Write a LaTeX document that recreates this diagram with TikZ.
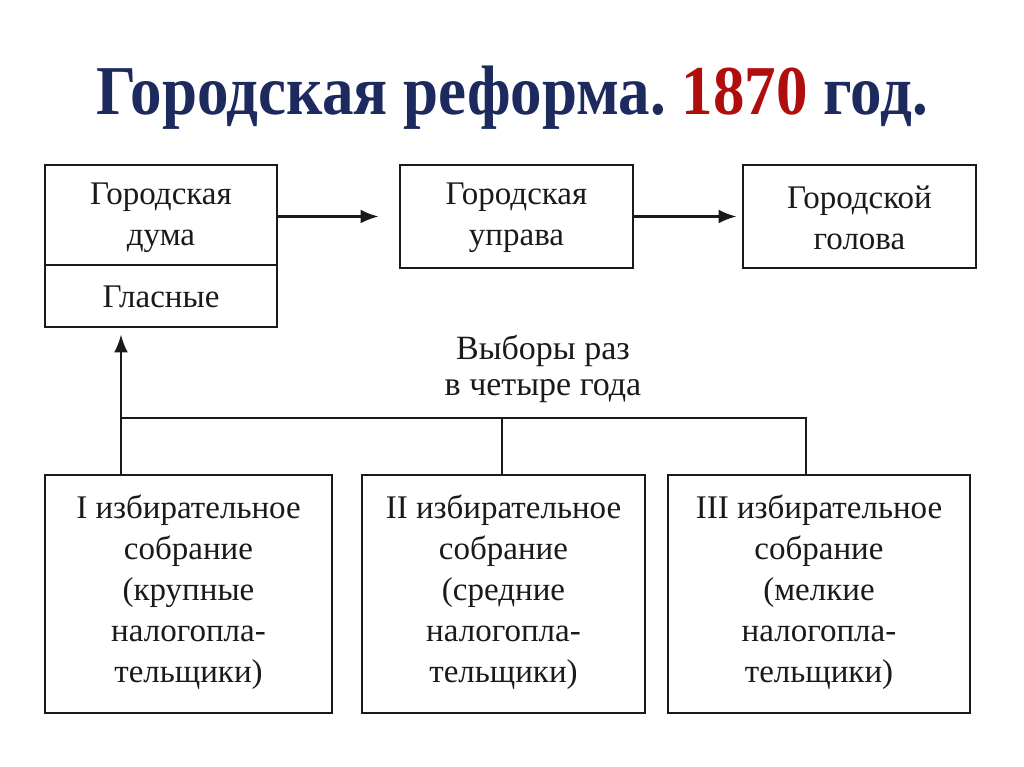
\documentclass[tikz,border=0pt]{standalone}
\usepackage{fontspec}
\setmainfont{Liberation Serif}
\usetikzlibrary{arrows.meta}
\definecolor{navy}{HTML}{1C2A5E}
\definecolor{dred}{HTML}{B00D0D}
\definecolor{ink}{HTML}{1A1A1A}
\frenchspacing
\begin{document}
\begin{tikzpicture}[x=1pt,y=-1pt,
  box/.style={draw=ink, line width=2.8pt, inner sep=0pt},
  lbl/.style={font=\fontsize{33}{41}\selectfont, align=center, text=ink, inner sep=0pt},
  conn/.style={draw=ink, line width=2.6pt},
  arr/.style={conn, -{Latex[length=18pt,width=14pt]}},
  ttl/.style={font=\fontsize{70}{80}\selectfont\bfseries, anchor=base, inner sep=0pt}]
\useasboundingbox[fill=white] (0,0) rectangle (1024,767);
% title
\node[ttl, text=navy] (title) at (512,115) {\scalebox{0.9}[1]{Городская реформа. \textcolor{dred}{1870} год.}};
% top boxes
\node[box, minimum width=232, minimum height=162] (duma) at (161,246) {};
\draw[conn, line width=2.8pt] (duma.west |- 0,265) -- (duma.east |- 0,265);
\node[lbl] (dumatext) at (161,218) {Городская\\дума};
\node[lbl] (glasnye) at (161,297) {Гласные};
\node[box, minimum width=233, minimum height=103] (uprava) at (516.5,216.5) {};
\node[lbl] (upravatext) at (516.5,218) {Городская\\управа};
\node[box, minimum width=233, minimum height=103] (golova) at (859.5,216.5) {};
\node[lbl] (golovatext) at (859.5,218) {Городской\\голова};
\draw[arr, shorten >=20pt] (duma.east |- uprava.west) -- (uprava.west);
\draw[arr, shorten >=5pt] (uprava.east) -- (golova.west);
% bottom boxes
\node[box, minimum width=287, minimum height=238] (b1) at (188.5,594) {};
\node[box, minimum width=283, minimum height=238] (b2) at (503.5,594) {};
\node[box, minimum width=302, minimum height=238] (b3) at (819,594) {};
\node[lbl] (t1) at (188.5,592) {I избирательное\\собрание\\(крупные\\налогопла-\\тельщики)};
\node[lbl] (t2) at (503.5,592) {II избирательное\\собрание\\(средние\\налогопла-\\тельщики)};
\node[lbl] (t3) at (819,592) {III избирательное\\собрание\\(мелкие\\налогопла-\\тельщики)};
% connectors
\coordinate (bus1) at (121,418);
\coordinate (bus2) at (502,418);
\coordinate (bus3) at (806,418);
\draw[conn] (bus1) -- (bus3) -- (bus3 |- b3.north);
\draw[conn] (bus2) -- (bus2 |- b2.north);
\draw[arr, shorten >=6pt] (bus1 |- b1.north) -- (bus1 |- duma.south);
\node[lbl, font=\fontsize{34}{36}\selectfont] (vybory) at (543,369) {Выборы раз\\в четыре года};
\end{tikzpicture}
\end{document}
